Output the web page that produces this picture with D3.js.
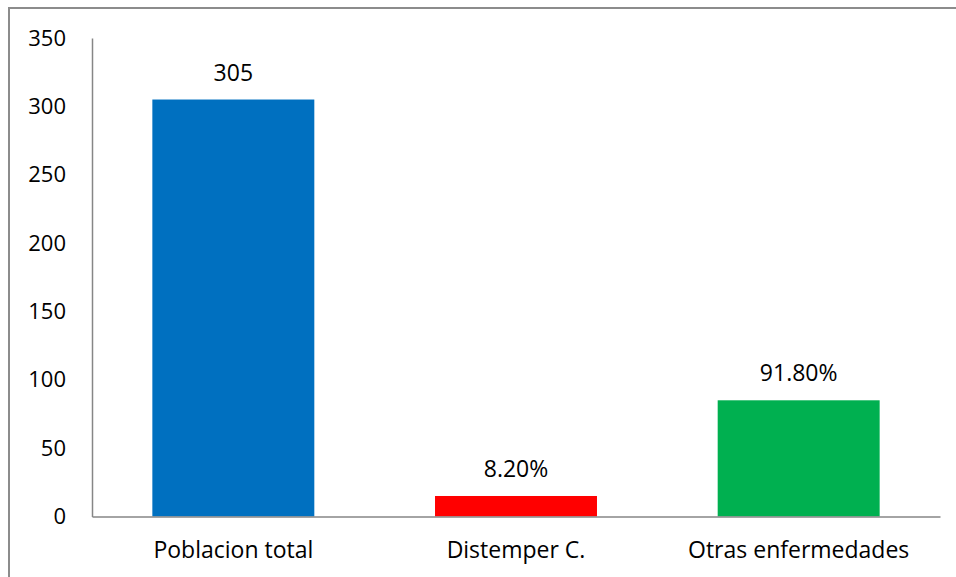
<!DOCTYPE html>
<html>
<head>
<meta charset="utf-8">
<script src="https://cdn.jsdelivr.net/npm/d3@7"></script>
<style>
  body { margin: 0; background: #fff; }
  svg text { font-family: "Open Sans", sans-serif; fill: #000; }
</style>
</head>
<body>
<div id="chart"></div>
<script>
const categories = ['Poblacion total', 'Distemper C.', 'Otras enfermedades'];
const values = [305, 15, 85];
const valueLabels = ['305', '8.20%', '91.80%'];
const barColors = ['#0070c0', '#ff0000', '#00b050'];
const yTicks = [0, 50, 100, 150, 200, 250, 300, 350];

const width = 956;
const height = 577;
const margin = { top: 38, right: 16, bottom: 61, left: 92 };

const svg = d3.select('#chart')
    .append('svg')
    .attr('width', width)
    .attr('height', height);

// outer frame
svg.append('rect')
    .attr('x', 9)
    .attr('y', 8)
    .attr('width', width + 20)
    .attr('height', height + 20)
    .attr('fill', 'none')
    .attr('stroke', '#8c8c8c')
    .attr('stroke-width', 2);

let x = d3.scaleBand()
    .domain(categories)
    .range([margin.left, width - margin.right])
    .paddingInner(0.427)
    .paddingOuter(0.2135);

let y = d3.scaleLinear()
    .domain([0, 350])
    .range([height - margin.bottom + 0.5, margin.top]);

// bars
svg.selectAll('rect.bar')
    .data(values)
    .enter()
    .append('rect')
    .attr('class', 'bar')
    .attr('x', (d, i) => x(categories[i]))
    .attr('y', d => y(d))
    .attr('width', x.bandwidth())
    .attr('height', d => y(0) - y(d))
    .attr('fill', (d, i) => barColors[i]);

// value labels
svg.selectAll('text.val')
    .data(values)
    .enter()
    .append('text')
    .attr('class', 'val')
    .attr('x', (d, i) => x(categories[i]) + x.bandwidth() / 2)
    .attr('y', d => y(d) - 19)
    .attr('text-anchor', 'middle')
    .attr('font-size', 23)
    .text((d, i) => valueLabels[i]);

// y axis
const yAxis = svg.append('g')
    .attr('transform', `translate(${margin.left},0)`)
    .call(d3.axisLeft(y).tickValues(yTicks).tickSize(0).tickPadding(26));
yAxis.select('.domain').attr('stroke', '#868686').attr('stroke-width', 1.5);
yAxis.selectAll('text')
    .attr('font-size', 22)
    .attr('font-family', '"Open Sans", sans-serif')
    .attr('fill', '#000');

// x axis
const xAxis = svg.append('g')
    .attr('transform', `translate(0,${y(0)})`)
    .call(d3.axisBottom(x).tickSize(0).tickPadding(25));
xAxis.select('.domain').attr('stroke', '#868686').attr('stroke-width', 1.5);
xAxis.selectAll('text')
    .attr('font-size', 23)
    .attr('font-family', '"Open Sans", sans-serif')
    .attr('fill', '#000');
</script>
</body>
</html>
